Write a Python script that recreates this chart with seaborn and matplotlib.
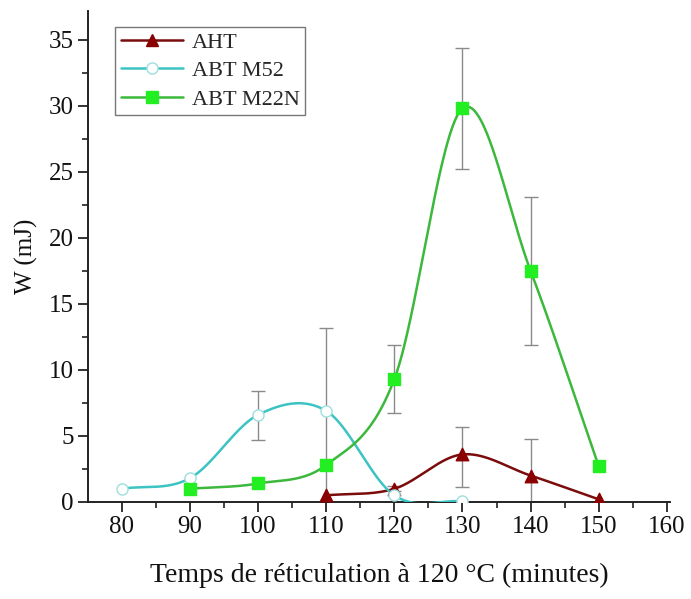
import numpy as np
import pandas as pd
import matplotlib
matplotlib.use("Agg")
import matplotlib.pyplot as plt
import seaborn as sns

# ---- data ----
aht_x = [110, 120, 130, 140, 150]
aht_y = [0.5, 1.0, 3.6, 2.0, 0.2]
aht_lo = [0.0, 0.2, 2.5, 2.0, 0.0]
aht_hi = [0.0, 0.2, 2.1, 2.8, 0.0]

m52_x = [80, 90, 100, 110, 120, 130]
m52_y = [1.0, 1.8, 6.6, 6.9, 0.5, 0.05]
m52_lo = [0.0, 0.0, 1.9, 6.9, 0.0, 0.0]
m52_hi = [0.0, 0.0, 1.8, 6.3, 0.0, 0.0]

m22_x = [90, 100, 110, 120, 130, 140, 150]
m22_y = [1.0, 1.4, 2.8, 9.3, 29.8, 17.5, 2.7]
m22_lo = [0.0, 0.0, 0.0, 2.6, 4.6, 5.6, 0.0]
m22_hi = [0.0, 0.0, 0.0, 2.6, 4.6, 5.6, 0.0]

labels = ["AHT", "ABT M52", "ABT M22N"]
xticks = [80, 90, 100, 110, 120, 130, 140, 150, 160]
yticks = [0, 5, 10, 15, 20, 25, 30, 35]


def smooth(x, y, n=60):
    """Catmull-Rom style cubic Hermite curve through the points."""
    x = np.asarray(x, float); y = np.asarray(y, float)
    k = len(x)
    m = np.empty(k)
    m[0] = (y[1] - y[0]) / (x[1] - x[0])
    m[-1] = (y[-1] - y[-2]) / (x[-1] - x[-2])
    for i in range(1, k - 1):
        m[i] = (y[i + 1] - y[i - 1]) / (x[i + 1] - x[i - 1])
    xs_all, ys_all = [], []
    for i in range(k - 1):
        h = x[i + 1] - x[i]
        t = np.linspace(0, 1, n)
        h00 = 2 * t**3 - 3 * t**2 + 1
        h10 = t**3 - 2 * t**2 + t
        h01 = -2 * t**3 + 3 * t**2
        h11 = t**3 - t**2
        xs_all.append(x[i] + t * h)
        ys_all.append(h00 * y[i] + h10 * h * m[i] + h01 * y[i + 1] + h11 * h * m[i + 1])
    return np.concatenate(xs_all), np.concatenate(ys_all)


sns.set_style("ticks")
plt.rcParams["font.family"] = ["Liberation Serif", "DejaVu Serif"]

fig = plt.figure(figsize=(6.91, 5.99), dpi=100)
ax = fig.add_axes([0.127, 0.162, 0.843, 0.82])

series = [
    (aht_x, aht_y, aht_lo, aht_hi, "#7a0c0c", "#8b0000", "#8b0000", "^", 9),
    (m52_x, m52_y, m52_lo, m52_hi, "#3cc3c3", "white", "#9fdede", "o", 8),
    (m22_x, m22_y, m22_lo, m22_hi, "#3cb83c", "#22ee22", "#22ee22", "s", 8),
]

handles = []
for (x, y, lo, hi, lc, fc, ec, mk, ms), lab in zip(series, labels):
    lo_a = np.array(lo); hi_a = np.array(hi)
    mask = (lo_a + hi_a) > 0
    if mask.any():
        ax.errorbar(np.array(x)[mask], np.array(y)[mask],
                    yerr=[lo_a[mask], hi_a[mask]], fmt="none",
                    ecolor="#8a8a8a", elinewidth=1.0, capsize=5, capthick=1.0, zorder=2)
    xs, ys = smooth(x, y)
    sns.lineplot(x=xs, y=ys, ax=ax, color=lc, lw=1.8, zorder=3, sort=False)
    sns.scatterplot(x=x, y=y, ax=ax, marker=mk, s=ms ** 2, color=fc,
                    edgecolor=ec, linewidth=1.0, zorder=4)
    handles.append(plt.Line2D([], [], color=lc, lw=1.8, marker=mk, markersize=ms,
                              markerfacecolor=fc, markeredgecolor=ec, label=lab))

ax.set_xlim(75, 160.5)
ax.set_ylim(0, 37.2)
ax.set_xticks(xticks)
ax.set_yticks(yticks)
ax.set_xticks(np.arange(85, 160, 10), minor=True)
ax.set_yticks(np.arange(2.5, 37.5, 5), minor=True)
ax.tick_params(axis="both", which="major", direction="out", length=7, width=1.3,
               labelsize=18, color="#222222", labelcolor="#111111", pad=3)
ax.tick_params(axis="both", which="minor", direction="out", length=4, width=1.2,
               color="#222222")
for s in ["top", "right"]:
    ax.spines[s].set_visible(False)
for s in ["left", "bottom"]:
    ax.spines[s].set_linewidth(1.4)
    ax.spines[s].set_color("#222222")

ax.set_xlabel("Temps de réticulation à 120 °C (minutes)", fontsize=20, labelpad=18,
              color="#111111")
ax.set_ylabel("W (mJ)", fontsize=18, labelpad=8, color="#111111")

leg = ax.legend(handles=handles, loc="upper left", bbox_to_anchor=(0.028, 0.99),
                fontsize=16, frameon=True, fancybox=False, edgecolor="#555555",
                handlelength=2.8, borderpad=0.25, labelspacing=0.35, handletextpad=0.4)
leg.get_frame().set_linewidth(1.0)

fig.savefig("out.png", dpi=100)
